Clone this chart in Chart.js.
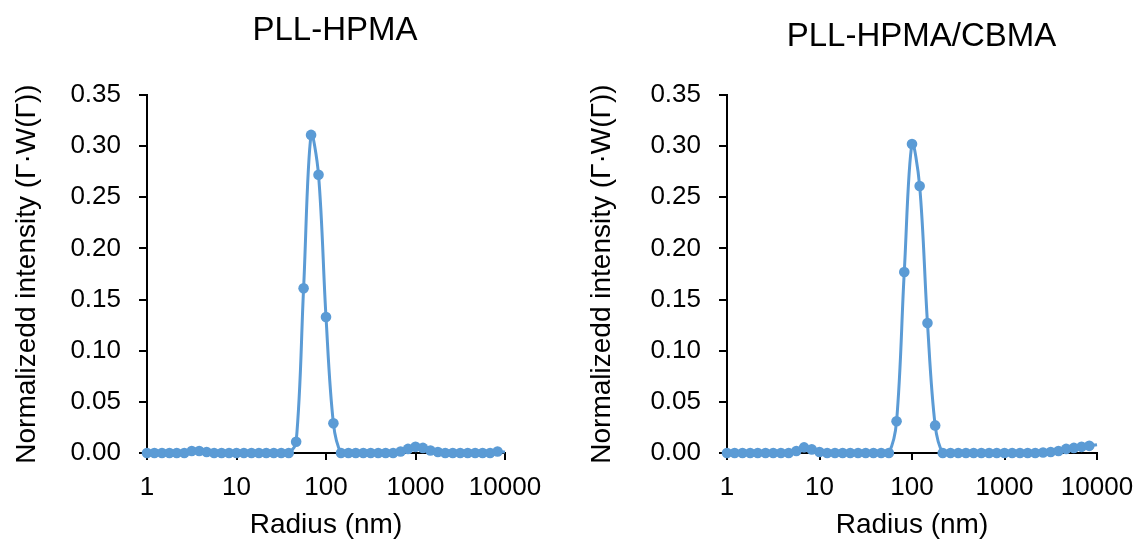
<!DOCTYPE html>
<html>
<head>
<meta charset="utf-8">
<title>PLL-HPMA vs PLL-HPMA/CBMA size distribution</title>
<script src="https://cdn.jsdelivr.net/npm/chart.js@4.4.1/dist/chart.umd.min.js"></script>
<style>
  html, body { margin: 0; padding: 0; background: #fff; }
  #page { position: relative; width: 1137px; height: 542px; overflow: hidden; }
  #page canvas { position: absolute; top: 0; }
  #leftChart { left: 0; }
  #rightChart { left: 575px; }
</style>
</head>
<body>
<div id="page">
  <canvas id="leftChart" width="670" height="542"></canvas>
  <canvas id="rightChart" width="693" height="542"></canvas>
</div>
<script>
// ── Data ────────────────────────────────────────────────────
// radius grid (nm), 12 points per decade
const radiusNm = [
  1, 1.21, 1.47, 1.78, 2.15, 2.61, 3.16, 3.83, 4.64, 5.62, 6.81, 8.25,
  10, 12.1, 14.7, 17.8, 21.5, 26.1, 31.6, 38.3, 46.4, 56.2, 68.1, 82.5,
  100, 121, 147, 178, 215, 261, 316, 383, 464, 562, 681, 825,
  1000, 1210, 1470, 1780, 2150, 2610, 3160, 3830, 4640, 5620, 6810, 8250,
  10000
];

const hpmaIntensity = [
  0, 0, 0, 0, 0, 0, 0.002, 0.002, 0.001, 0, 0, 0,
  0, 0, 0, 0, 0, 0, 0, 0, 0.011, 0.161, 0.311, 0.272,
  0.133, 0.029, 0, 0, 0, 0, 0, 0, 0, 0, 0.0015, 0.004,
  0.006, 0.005, 0.0025, 0.001, 0, 0, 0, 0, 0, 0, 0, 0.0015,
  0.001
];

const cbmaIntensity = [
  0, 0, 0, 0, 0, 0, 0, 0, 0, 0.002, 0.0055, 0.0035,
  0.001, 0, 0, 0, 0, 0, 0, 0, 0, 0, 0.031, 0.177,
  0.302, 0.261, 0.127, 0.027, 0, 0, 0, 0, 0, 0, 0, 0,
  0, 0, 0, 0, 0, 0.0005, 0.001, 0.002, 0.004, 0.005, 0.006, 0.007,
  0.008
];

const xTickValues = [1, 10, 100, 1000, 10000];
const yMin = 0;
const yMax = 0.35;
const yStep = 0.05;

const titles = ['PLL-HPMA', 'PLL-HPMA/CBMA'];
const xTitle = 'Radius (nm)';
const yTitle = 'Normalizedd intensity (Γ·W(Γ))';

// ── Styling ─────────────────────────────────────────────────
const lineBlue = '#5B9BD5';
Chart.defaults.font.family = '"Liberation Sans", Arial, sans-serif';
Chart.defaults.color = '#000';

function makeChart(canvasId, values, title, box) {
  const ctx = document.getElementById(canvasId).getContext('2d');
  const points = radiusNm.map((r, i) => ({ x: r, y: values[i] }));
  // last point only carries the line to the axis end, no marker
  const radii = radiusNm.map((r, i) => (i === radiusNm.length - 1 ? 0 : 5.3));

  return new Chart(ctx, {
    type: 'line',
    data: {
      datasets: [{
        data: points,
        borderColor: lineBlue,
        backgroundColor: lineBlue,
        borderWidth: 3,
        pointRadius: radii,
        pointBorderWidth: 0,
        pointBackgroundColor: lineBlue,
        tension: 0.35,
        clip: false,
      }]
    },
    options: {
      responsive: false,
      animation: false,
      layout: { padding: 0 },
      plugins: {
        legend: { display: false },
        tooltip: { enabled: false },
        title: {
          display: true,
          text: title,
          font: { size: 33, weight: 'normal' },
          color: '#000',
          padding: { top: box.titleTop, bottom: box.titleBottom },
        }
      },
      scales: {
        x: {
          type: 'logarithmic',
          min: xTickValues[0],
          max: xTickValues[xTickValues.length - 1],
          afterBuildTicks: (scale) => { scale.ticks = xTickValues.map(v => ({ value: v })); },
          afterFit: (scale) => { scale.height = 89; },
          ticks: {
            font: { size: 26 },
            color: '#000',
            padding: 12,
            autoSkip: false,
            maxRotation: 0,
            callback: (v) => String(v),
          },
          grid: { display: true, drawOnChartArea: false, drawTicks: true, tickLength: 7, color: '#000', lineWidth: 2 },
          border: { display: true, color: '#000', width: 2 },
          title: { display: true, text: xTitle, font: { size: 28 }, color: '#000', padding: { top: 2, bottom: 0 } },
        },
        y: {
          min: yMin,
          max: yMax,
          afterFit: (scale) => { scale.width = box.yWidth; },
          ticks: {
            stepSize: yStep,
            font: { size: 26 },
            color: '#000',
            padding: 18,
            callback: (v) => Number(v).toFixed(2),
          },
          grid: { display: true, drawOnChartArea: false, drawTicks: true, tickLength: 8, color: '#000', lineWidth: 2 },
          border: { display: true, color: '#000', width: 2 },
          title: { display: true, text: yTitle, font: { size: 28 }, color: '#000', padding: { top: 10, bottom: 0 } },
        },
        // empty right-hand axis: reserves the blank margin so the title sits where it does in the figure
        spacer: {
          position: 'right',
          display: true,
          afterFit: (scale) => { scale.width = box.rightGap; },
          ticks: { display: false },
          grid: { display: false },
          border: { display: false },
        }
      }
    }
  });
}

makeChart('leftChart', hpmaIntensity, titles[0], { yWidth: 147, rightGap: 165, titleTop: 11.2, titleBottom: 44.2 });
makeChart('rightChart', cbmaIntensity, titles[1], { yWidth: 152, rightGap: 171, titleTop: 17.2, titleBottom: 38.2 });
</script>
</body>
</html>
